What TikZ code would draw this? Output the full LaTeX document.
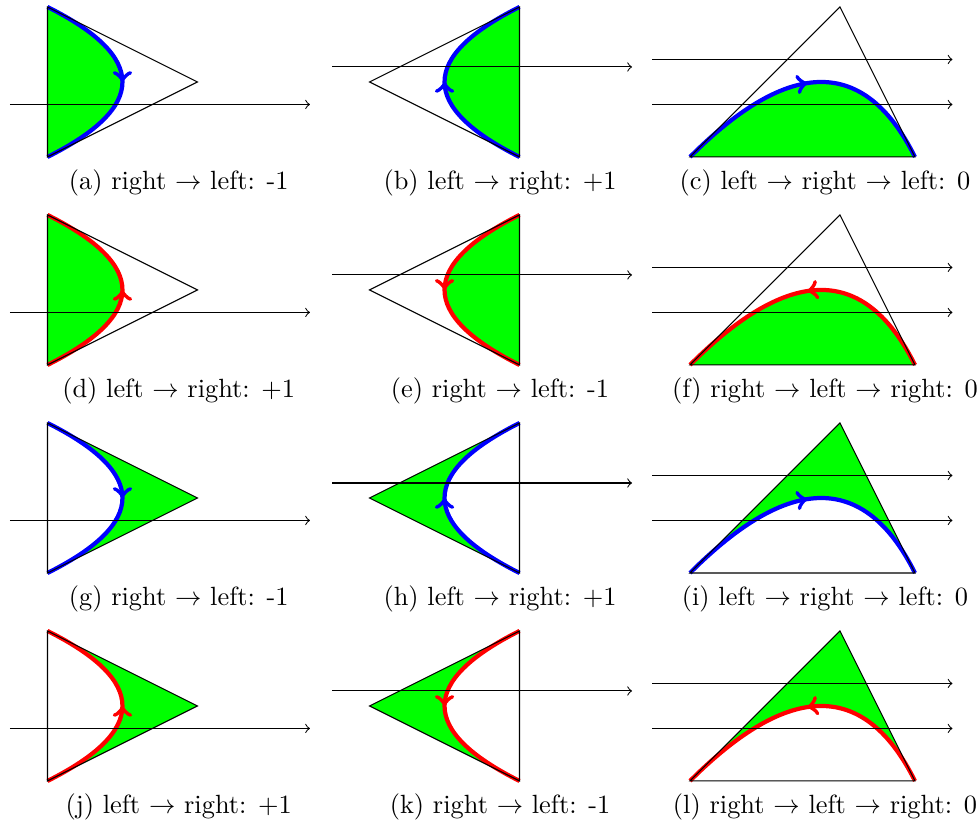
\documentclass[tikz,border=0pt]{standalone}
\usepackage{tikz}
\usetikzlibrary{decorations.markings}

\begin{document}
\begin{tikzpicture}[
  region/.style={fill=green},
  tri/.style={draw=black},
  ray/.style={->},
  flow/.style={ultra thick, postaction={decorate},
    decoration={markings, mark=at position 0.5 with {\arrow{>}}}},
  subcap/.style={anchor=base}
]
  \useasboundingbox (0,0) rectangle (13.067,10.933);

  % row 1
  \begin{scope}[shift={(0.633,8.84)}]
    \fill[region] (0,2) .. controls (1.333,1.333) and (1.333,0.667) .. (0,0) -- cycle;
    \draw[flow, blue] (0,2) .. controls (1.333,1.333) and (1.333,0.667) .. (0,0);
    \draw[tri] (0,0) -- (0,2) -- (2,1) -- cycle;
    \draw[ray] (-0.5,0.7) -- (3.5,0.7);
    \node[subcap] (capa) at (1.75,-0.43) {(a) right $\rightarrow$ left: -1};
  \end{scope}
  \begin{scope}[shift={(4.927,8.84)}]
    \fill[region] (2,0) .. controls (0.667,0.667) and (0.667,1.333) .. (2,2) -- cycle;
    \draw[flow, blue] (2,0) .. controls (0.667,0.667) and (0.667,1.333) .. (2,2);
    \draw[tri] (2,0) -- (2,2) -- (0,1) -- cycle;
    \draw[ray] (-0.5,1.2) -- (3.5,1.2);
    \node[subcap] (capb) at (1.74,-0.43) {(b) left $\rightarrow$ right: +1};
  \end{scope}
  \begin{scope}[shift={(9.2,8.84)}]
    \fill[region] (0,0) .. controls (1.333,1.333) and (2.333,1.333) .. (3,0) -- cycle;
    \draw[flow, blue] (0,0) .. controls (1.333,1.333) and (2.333,1.333) .. (3,0);
    \draw[tri] (0,0) -- (3,0) -- (2,2) -- cycle;
    \draw[ray] (-0.5,0.7) -- (3.5,0.7);
    \draw[ray] (-0.5,1.3) -- (3.5,1.3);
    \node[subcap] (capc) at (1.8,-0.43) {(c) left $\rightarrow$ right $\rightarrow$ left: 0};
  \end{scope}

  % row 2
  \begin{scope}[shift={(0.633,6.067)}]
    \fill[region] (0,0) .. controls (1.333,0.667) and (1.333,1.333) .. (0,2) -- cycle;
    \draw[flow, red] (0,0) .. controls (1.333,0.667) and (1.333,1.333) .. (0,2);
    \draw[tri] (0,0) -- (0,2) -- (2,1) -- cycle;
    \draw[ray] (-0.5,0.7) -- (3.5,0.7);
    \node[subcap] (capd) at (1.75,-0.43) {(d) left $\rightarrow$ right: +1};
  \end{scope}
  \begin{scope}[shift={(4.927,6.067)}]
    \fill[region] (2,2) .. controls (0.667,1.333) and (0.667,0.667) .. (2,0) -- cycle;
    \draw[flow, red] (2,2) .. controls (0.667,1.333) and (0.667,0.667) .. (2,0);
    \draw[tri] (2,0) -- (2,2) -- (0,1) -- cycle;
    \draw[ray] (-0.5,1.2) -- (3.5,1.2);
    \node[subcap] (cape) at (1.74,-0.43) {(e) right $\rightarrow$ left: -1};
  \end{scope}
  \begin{scope}[shift={(9.2,6.067)}]
    \fill[region] (3,0) .. controls (2.333,1.333) and (1.333,1.333) .. (0,0) -- cycle;
    \draw[flow, red] (3,0) .. controls (2.333,1.333) and (1.333,1.333) .. (0,0);
    \draw[tri] (0,0) -- (3,0) -- (2,2) -- cycle;
    \draw[ray] (-0.5,0.7) -- (3.5,0.7);
    \draw[ray] (-0.5,1.3) -- (3.5,1.3);
    \node[subcap] (capf) at (1.8,-0.43) {(f) right $\rightarrow$ left $\rightarrow$ right: 0};
  \end{scope}

  % row 3
  \begin{scope}[shift={(0.633,3.293)}]
    \fill[region] (0,2) .. controls (1.333,1.333) and (1.333,0.667) .. (0,0) -- (2,1) -- cycle;
    \draw[flow, blue] (0,2) .. controls (1.333,1.333) and (1.333,0.667) .. (0,0);
    \draw[tri] (0,0) -- (0,2) -- (2,1) -- cycle;
    \draw[ray] (-0.5,0.7) -- (3.5,0.7);
    \node[subcap] (capg) at (1.75,-0.43) {(g) right $\rightarrow$ left: -1};
  \end{scope}
  \begin{scope}[shift={(4.927,3.293)}]
    \fill[region] (2,0) .. controls (0.667,0.667) and (0.667,1.333) .. (2,2) -- (0,1) -- cycle;
    \draw[flow, blue] (2,0) .. controls (0.667,0.667) and (0.667,1.333) .. (2,2);
    \draw[tri] (2,0) -- (2,2) -- (0,1) -- cycle;
    \draw[ray] (-0.5,1.2) -- (3.5,1.2);
    \node[subcap] (caph) at (1.74,-0.43) {(h) left $\rightarrow$ right: +1};
  \end{scope}
  \begin{scope}[shift={(9.2,3.293)}]
    \fill[region] (0,0) .. controls (1.333,1.333) and (2.333,1.333) .. (3,0) -- (2,2) -- cycle;
    \draw[flow, blue] (0,0) .. controls (1.333,1.333) and (2.333,1.333) .. (3,0);
    \draw[tri] (0,0) -- (3,0) -- (2,2) -- cycle;
    \draw[ray] (-0.5,0.7) -- (3.5,0.7);
    \draw[ray] (-0.5,1.3) -- (3.5,1.3);
    \node[subcap] (capi) at (1.8,-0.43) {(i) left $\rightarrow$ right $\rightarrow$ left: 0};
  \end{scope}

  % row 4
  \begin{scope}[shift={(0.633,0.52)}]
    \fill[region] (0,0) .. controls (1.333,0.667) and (1.333,1.333) .. (0,2) -- (2,1) -- cycle;
    \draw[flow, red] (0,0) .. controls (1.333,0.667) and (1.333,1.333) .. (0,2);
    \draw[tri] (0,0) -- (0,2) -- (2,1) -- cycle;
    \draw[ray] (-0.5,0.7) -- (3.5,0.7);
    \node[subcap] (capj) at (1.75,-0.43) {(j) left $\rightarrow$ right: +1};
  \end{scope}
  \begin{scope}[shift={(4.927,0.52)}]
    \fill[region] (2,2) .. controls (0.667,1.333) and (0.667,0.667) .. (2,0) -- (0,1) -- cycle;
    \draw[flow, red] (2,2) .. controls (0.667,1.333) and (0.667,0.667) .. (2,0);
    \draw[tri] (2,0) -- (2,2) -- (0,1) -- cycle;
    \draw[ray] (-0.5,1.2) -- (3.5,1.2);
    \node[subcap] (capk) at (1.74,-0.43) {(k) right $\rightarrow$ left: -1};
  \end{scope}
  \begin{scope}[shift={(9.2,0.52)}]
    \fill[region] (3,0) .. controls (2.333,1.333) and (1.333,1.333) .. (0,0) -- (2,2) -- cycle;
    \draw[flow, red] (3,0) .. controls (2.333,1.333) and (1.333,1.333) .. (0,0);
    \draw[tri] (0,0) -- (3,0) -- (2,2) -- cycle;
    \draw[ray] (-0.5,0.7) -- (3.5,0.7);
    \draw[ray] (-0.5,1.3) -- (3.5,1.3);
    \node[subcap] (capl) at (1.8,-0.43) {(l) right $\rightarrow$ left $\rightarrow$ right: 0};
  \end{scope}
\end{tikzpicture}
\end{document}
